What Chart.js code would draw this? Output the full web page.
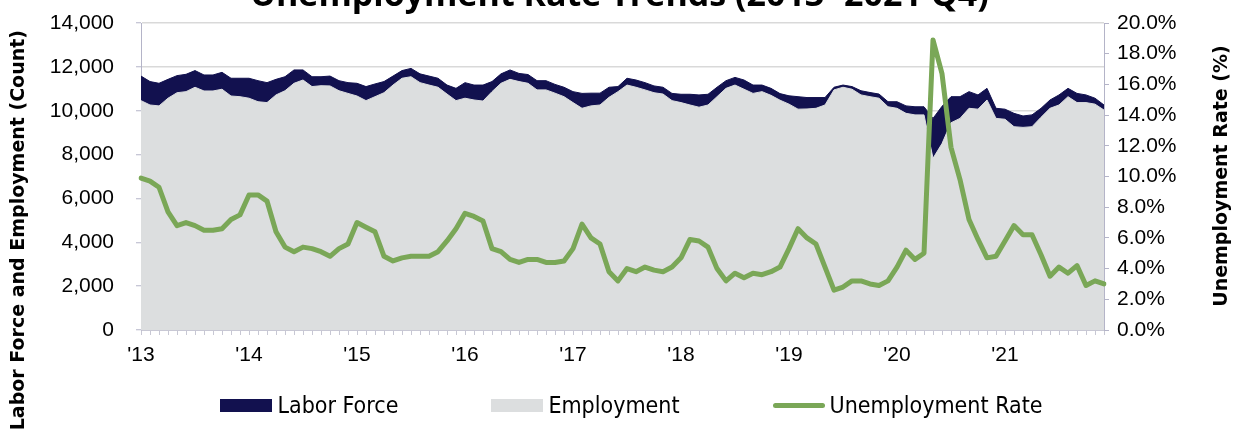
<!DOCTYPE html>
<html>
<head>
<meta charset="utf-8">
<script src="https://cdn.jsdelivr.net/npm/chart.js@4.4.1/dist/chart.umd.min.js"></script>
<style>
  body { margin: 0; background: #fff; }
  #wrap { position: relative; width: 1239px; height: 438px; overflow: hidden; }
  #chart { position: absolute; left: 0; top: 0; }
  .title {
    position: absolute; left: 0; top: -30px; width: 1239px; text-align: center;
    font: bold 34px "Open Sans", sans-serif; color: #000; white-space: nowrap;
  }
  .axis-title {
    position: absolute; height: 24px; line-height: 24px; white-space: nowrap;
    font: bold 19px "DejaVu Sans", sans-serif; color: #000; transform: rotate(-90deg);
  }
  #leftTitle { width: 440px; left: -202px; top: 238px; text-align: right; }
  #rightTitle { width: 320px; left: 1061px; top: 164px; text-align: center; }
  #legend {
    position: absolute; top: 392px; left: 12px; width: 1239px; display: flex; justify-content: center;
    gap: 93px; font: 23px "Liberation Sans Narrow", "DejaVu Sans Condensed", sans-serif; color: #000;
  }
  .legend-item { display: flex; align-items: center; }
  .legend-color-box { display: inline-block; width: 52px; height: 13px; margin-right: 5px; }
  .legend-line { height: 5px; border-radius: 3px; }
</style>
</head>
<body>
<div id="wrap">
  <canvas id="chart" width="1239" height="438"></canvas>
  <div class="title">Unemployment Rate Trends (2013 -2021 Q4)</div>
  <div class="axis-title" id="leftTitle">Labor Force and Employment (Count)</div>
  <div class="axis-title" id="rightTitle">Unemployment Rate (%)</div>
  <div id="legend"></div>
</div>
<script>
// monthly, Jan 2013 .. Dec 2021
const years = [2013, 2014, 2015, 2016, 2017, 2018, 2019, 2020, 2021];
const monthNames = ["Jan", "Feb", "Mar", "Apr", "May", "Jun", "Jul", "Aug", "Sep", "Oct", "Nov", "Dec"];
const yearLabels = ["'13", "'14", "'15", "'16", "'17", "'18", "'19", "'20", "'21"];
const months = years.flatMap(y => monthNames.map(m => `${m} ${y}`));

const laborForce = [
  11580, 11330, 11250, 11430, 11600, 11660, 11830, 11630, 11630, 11750, 11480, 11480,
  11480, 11370, 11280, 11430, 11550, 11860, 11860, 11550, 11550, 11580, 11370, 11280,
  11250, 11100, 11220, 11330, 11580, 11830, 11930, 11680, 11580, 11480, 11170, 11020,
  11280, 11170, 11170, 11330, 11680, 11860, 11700, 11650, 11370, 11370, 11200, 11070,
  10870, 10790, 10800, 10800, 11070, 11100, 11480, 11400, 11280, 11130, 11070, 10790,
  10750, 10750, 10720, 10750, 11070, 11370, 11520, 11400, 11170, 11170, 11020, 10780,
  10680, 10640, 10600, 10600, 10600, 11070, 11170, 11100, 10910, 10830, 10760, 10410,
  10410, 10220, 10180, 10180, 9650, 10200, 10640, 10640, 10870, 10720, 11020, 10110,
  10070, 9880, 9760, 9810, 10110, 10490, 10720, 11020, 10790, 10720, 10570, 10260
];

const employment = [
  10460, 10260, 10220, 10570, 10820, 10870, 11070, 10900, 10900, 10980, 10670, 10640,
  10570, 10410, 10370, 10720, 10910, 11250, 11400, 11100, 11140, 11130, 10910, 10790,
  10670, 10460, 10640, 10820, 11170, 11480, 11550, 11280, 11170, 11070, 10760, 10460,
  10570, 10490, 10440, 10870, 11250, 11430, 11330, 11250, 10950, 10950, 10800, 10640,
  10370, 10110, 10220, 10260, 10610, 10870, 11170, 11070, 10950, 10820, 10760, 10460,
  10370, 10260, 10160, 10260, 10640, 11020, 11170, 10980, 10790, 10870, 10700, 10480,
  10300, 10070, 10080, 10110, 10260, 10950, 11070, 10980, 10720, 10640, 10570, 10180,
  10110, 9880, 9810, 9810, 7830, 8500, 9450, 9650, 10110, 10070, 10490, 9650,
  9610, 9270, 9240, 9270, 9700, 10110, 10260, 10640, 10370, 10370, 10300, 10030
];

const unemploymentRate = [
  9.9, 9.7, 9.3, 7.7, 6.8, 7.0, 6.8, 6.5, 6.5, 6.6, 7.2, 7.5,
  8.8, 8.8, 8.4, 6.4, 5.4, 5.1, 5.4, 5.3, 5.1, 4.8, 5.3, 5.6,
  7.0, 6.7, 6.4, 4.8, 4.5, 4.7, 4.8, 4.8, 4.8, 5.1, 5.8, 6.6,
  7.6, 7.4, 7.1, 5.3, 5.1, 4.6, 4.4, 4.6, 4.6, 4.4, 4.4, 4.5,
  5.3, 6.9, 6.0, 5.6, 3.8, 3.2, 4.0, 3.8, 4.1, 3.9, 3.8, 4.1,
  4.7, 5.9, 5.8, 5.4, 4.0, 3.2, 3.7, 3.4, 3.7, 3.6, 3.8, 4.1,
  5.3, 6.6, 6.0, 5.6, 4.1, 2.6, 2.8, 3.2, 3.2, 3.0, 2.9, 3.2,
  4.1, 5.2, 4.6, 5.0, 18.9, 16.7, 11.9, 9.8, 7.2, 5.9, 4.7, 4.8,
  5.8, 6.8, 6.2, 6.2, 4.9, 3.5, 4.1, 3.7, 4.2, 2.9, 3.2, 3.0
];

const NAVY = "#12114f";
const GRAY = "#dcdedf";
const GREEN = "#7aa757";
const AXIS = "#b4b4c8";

const tickFont = { family: "'Liberation Sans', Arial, sans-serif", size: 21 };

// ---- legend (html, like the original's boxes under the plot)
function buildLegend(containerId, labels, colors) {
  const container = document.getElementById(containerId);
  container.innerHTML = "";
  labels.forEach((label, i) => {
    const item = document.createElement("div");
    item.classList.add("legend-item");
    const box = document.createElement("span");
    box.classList.add("legend-color-box");
    if (i === 2) box.classList.add("legend-line");
    box.style.backgroundColor = colors[i];
    const text = document.createElement("span");
    text.textContent = label;
    item.appendChild(box);
    item.appendChild(text);
    container.appendChild(item);
  });
}
buildLegend("legend", ["Labor Force", "Employment", "Unemployment Rate"], [NAVY, GRAY, GREEN]);

// fixed plot box: 141..1104 wide, 23..330 tall
function fitY(width) {
  return (scale) => {
    scale.width = width;
    scale.paddingTop = 0;
    scale.paddingBottom = 0;
  };
}

const ctx = document.getElementById("chart").getContext("2d");
new Chart(ctx, {
  type: "line",
  data: {
    labels: months,
    datasets: [
      {
        label: "Labor Force", data: laborForce, yAxisID: "y",
        backgroundColor: NAVY, borderColor: NAVY, borderWidth: 1,
        fill: "origin", pointRadius: 0, order: 2
      },
      {
        label: "Employment", data: employment, yAxisID: "y",
        backgroundColor: GRAY, borderColor: GRAY, borderWidth: 1,
        fill: "origin", pointRadius: 0, order: 1
      },
      {
        label: "Unemployment Rate", data: unemploymentRate, yAxisID: "y1",
        borderColor: GREEN, borderWidth: 5, fill: false, pointRadius: 0, order: 0,
        borderJoinStyle: "round", borderCapStyle: "round"
      }
    ]
  },
  options: {
    responsive: false,
    animation: false,
    devicePixelRatio: 1,
    layout: { padding: { top: 23, left: 0, right: 0, bottom: 0 } },
    elements: { line: { tension: 0 } },
    plugins: { legend: { display: false }, title: { display: false }, tooltip: { enabled: false } },
    scales: {
      x: {
        offset: false,
        grid: { drawOnChartArea: false, tickLength: 5, color: "#c8c8d4" },
        border: { color: "#c8c8d4" },
        ticks: {
          autoSkip: false, maxRotation: 0, minRotation: 0, padding: 8,
          font: tickFont, color: "#000",
          callback: (v, i) => (i % 12 === 0 ? yearLabels[i / 12] : "")
        },
        afterFit(scale) { scale.height = 108; scale.paddingLeft = 0; scale.paddingRight = 0; }
      },
      y: {
        position: "left", min: 0, max: 14000,
        ticks: { stepSize: 2000, padding: 22, font: tickFont, color: "#000", callback: v => v.toLocaleString("en-US") },
        grid: { color: "#d9d9d9", lineWidth: 1.5, tickLength: 5, tickColor: AXIS, tickWidth: 1 },
        border: { display: true, color: AXIS, width: 1 },
        afterFit: fitY(141)
      },
      y1: {
        position: "right", min: 0, max: 20,
        ticks: { stepSize: 2, padding: 8, font: tickFont, color: "#000", callback: v => `${Number(v).toFixed(1)}%` },
        grid: { drawOnChartArea: false, tickLength: 5, color: AXIS },
        border: { display: true, color: AXIS, width: 1 },
        afterFit: fitY(135)
      }
    }
  }
});
</script>
</body>
</html>
